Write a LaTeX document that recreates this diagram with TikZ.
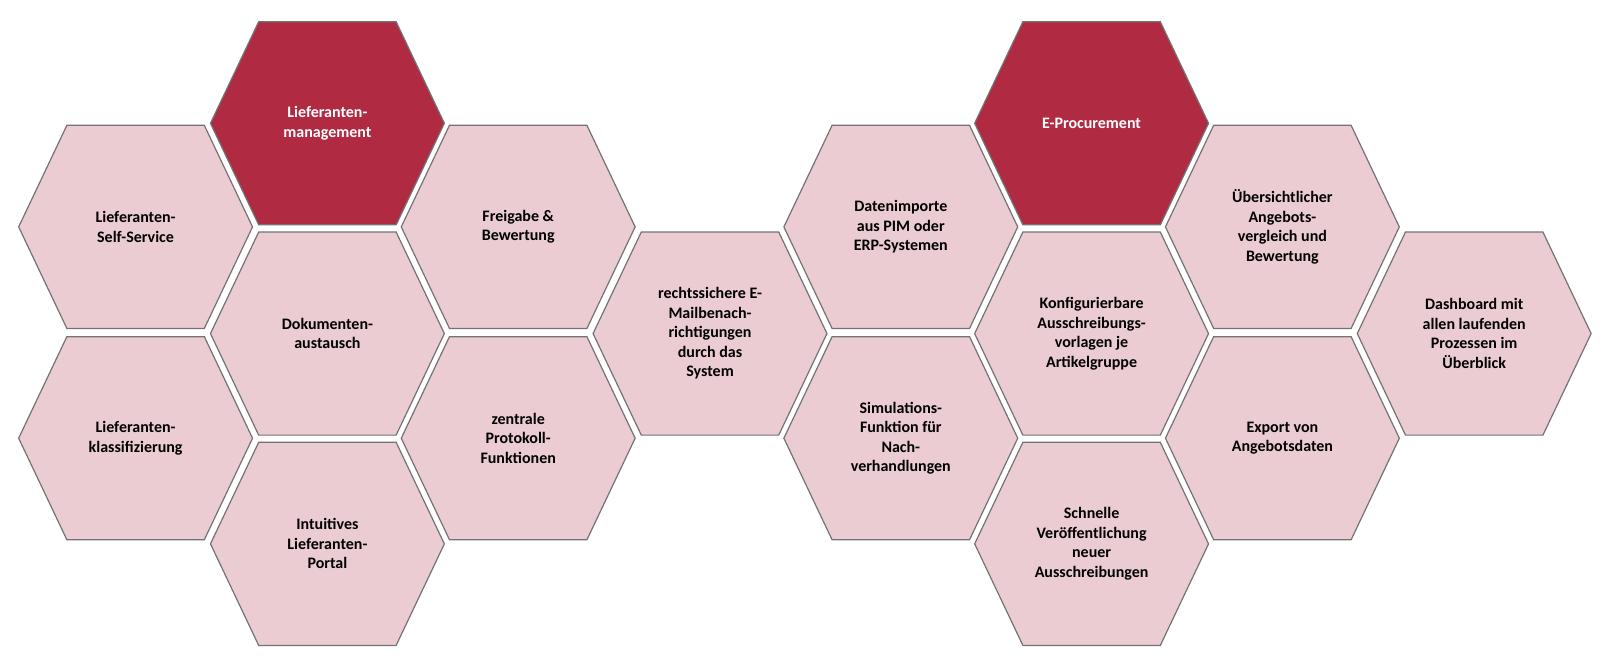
\documentclass[tikz,border=0pt]{standalone}
\usepackage{fontspec}
\setmainfont{Carlito}
\definecolor{hexpink}{HTML}{EBCCD3}
\definecolor{hexred}{HTML}{B02A42}
\newcommand{\hx}[5]{%
  \draw[#3] (#1-114,#2) -- (#1-67,#2-99) -- (#1+67,#2-99) -- (#1+114,#2) -- (#1+67,#2+99) -- (#1-67,#2+99) -- cycle;%
  \node[#4] (#5) at (#1,#2) {};}
\begin{document}
\begin{tikzpicture}[x=1pt,y=-1pt,
  hexl/.style={draw=black!55,line width=1.2pt,fill=hexpink},
  hexd/.style={draw=black!55,line width=1.2pt,fill=hexred},
  anch/.style={inner sep=0pt,minimum size=0pt},
  lbl/.style={align=center,font=\fontsize{16}{19.5}\selectfont\bfseries,text=black},
  lbld/.style={align=center,font=\fontsize{16}{19.5}\selectfont\bfseries,text=white}]
\draw[draw=white,fill=white] (0,0) rectangle (1605,659);
\useasboundingbox (0,0) rectangle (1605,659);
\begin{scope}[x=1.026pt,y=-1.026pt]
\hx{132}{221}{hexl}{anch}{a}\node[lbl] at (a) {Lieferanten-\\Self-Service};
\hx{132}{427}{hexl}{anch}{b}\node[lbl] at (b) {Lieferanten-\\klassifizierung};
\hx{319}{120}{hexd}{anch}{c}\node[lbld] at (c) {Lieferanten-\\management};
\hx{319}{325}{hexl}{anch}{d}\node[lbl] at (d) {Dokumenten-\\austausch};
\hx{319}{530}{hexl}{anch}{e}\node[lbl] at (e) {Intuitives\\Lieferanten-\\Portal};
\hx{505}{221}{hexl}{anch}{f}\node[lbl] at (f) {Freigabe \&\\Bewertung};
\hx{505}{427}{hexl}{anch}{g}\node[lbl] at (g) {zentrale\\Protokoll-\\Funktionen};
\hx{692}{325}{hexl}{anch}{h}\node[lbl] at (h) {rechtssichere E-\\Mailbenach-\\richtigungen\\durch das\\System};
\hx{878}{221}{hexl}{anch}{i}\node[lbl] at (i) {Datenimporte\\aus PIM oder\\ERP-Systemen};
\hx{878}{427}{hexl}{anch}{j}\node[lbl] at (j) {Simulations-\\Funktion für\\Nach-\\verhandlungen};
\hx{1064}{120}{hexd}{anch}{k}\node[lbld] at (k) {E-Procurement};
\hx{1064}{325}{hexl}{anch}{l}\node[lbl] at (l) {Konfigurierbare\\Ausschreibungs-\\vorlagen je\\Artikelgruppe};
\hx{1064}{530}{hexl}{anch}{m}\node[lbl] at (m) {Schnelle\\Veröffentlichung\\neuer\\Ausschreibungen};
\hx{1250}{221}{hexl}{anch}{n}\node[lbl] at (n) {Übersichtlicher\\Angebots-\\vergleich und\\Bewertung};
\hx{1250}{427}{hexl}{anch}{o}\node[lbl] at (o) {Export von\\Angebotsdaten};
\hx{1437}{325}{hexl}{anch}{p}\node[lbl] at (p) {Dashboard mit\\allen laufenden\\Prozessen im\\Überblick};
\end{scope}
\end{tikzpicture}
\end{document}
